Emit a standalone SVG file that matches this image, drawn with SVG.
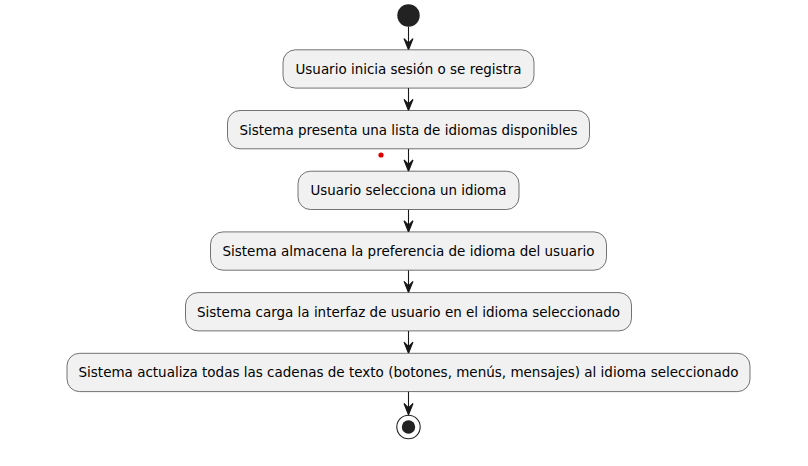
<svg xmlns="http://www.w3.org/2000/svg" width="808" height="466" viewBox="0 0 808 466">
<style>
.box{fill:#F1F1F1;stroke:#181818;stroke-width:0.6}
.lbl{font-family:"DejaVu Sans",sans-serif;font-size:13.4px;fill:#000;text-anchor:middle}
.edge{stroke:#181818;stroke-width:1.1;fill:none}
.head{fill:#181818;stroke:#181818;stroke-width:1.1}
</style>
<defs>
<polygon id="ah" points="-4.5,-11.2 0,0 4.5,-11.2 0,-6.7"/>
</defs>
<rect width="808" height="466" fill="#FFFFFF"/>
<g id="connectors">
<line class="edge" x1="408.5" y1="26.7" x2="408.5" y2="49"/>
<use href="#ah" class="head" x="408.5" y="49.8"/>
<line class="edge" x1="408.5" y1="88.1" x2="408.5" y2="110"/>
<use href="#ah" class="head" x="408.5" y="110.5"/>
<line class="edge" x1="408.5" y1="148.8" x2="408.5" y2="170.5"/>
<use href="#ah" class="head" x="408.5" y="171.2"/>
<line class="edge" x1="408.5" y1="209.5" x2="408.5" y2="231.2"/>
<use href="#ah" class="head" x="408.5" y="231.9"/>
<line class="edge" x1="408.5" y1="270.2" x2="408.5" y2="292"/>
<use href="#ah" class="head" x="408.5" y="292.6"/>
<line class="edge" x1="408.5" y1="330.9" x2="408.5" y2="352.6"/>
<use href="#ah" class="head" x="408.5" y="353.3"/>
<line class="edge" x1="408.5" y1="391.6" x2="408.5" y2="414"/>
<use href="#ah" class="head" x="408.5" y="414.7"/>
</g>
<g id="start"><circle cx="408.5" cy="15.5" r="11.2" fill="#222222"/></g>
<g id="n1">
<rect class="box" x="283" y="49.8" width="251" height="38.3" rx="12.5"/>
<text class="lbl" x="408.5" y="73.8" textLength="226" lengthAdjust="spacingAndGlyphs">Usuario inicia sesión o se registra</text>
</g>
<g id="n2">
<rect class="box" x="227.5" y="110.5" width="362" height="38.3" rx="12.5"/>
<text class="lbl" x="408.5" y="134.5" textLength="338" lengthAdjust="spacingAndGlyphs">Sistema presenta una lista de idiomas disponibles</text>
</g>
<circle cx="381" cy="155" r="2.6" fill="#E00000"/>
<g id="n3">
<rect class="box" x="298" y="171.2" width="221" height="38.3" rx="12.5"/>
<text class="lbl" x="408.5" y="195.2" textLength="196" lengthAdjust="spacingAndGlyphs">Usuario selecciona un idioma</text>
</g>
<g id="n4">
<rect class="box" x="210.5" y="231.9" width="396" height="38.3" rx="12.5"/>
<text class="lbl" x="408.5" y="255.9" textLength="372" lengthAdjust="spacingAndGlyphs">Sistema almacena la preferencia de idioma del usuario</text>
</g>
<g id="n5">
<rect class="box" x="185.5" y="292.6" width="446" height="38.3" rx="12.5"/>
<text class="lbl" x="408.5" y="316.6" textLength="423" lengthAdjust="spacingAndGlyphs">Sistema carga la interfaz de usuario en el idioma seleccionado</text>
</g>
<g id="n6">
<rect class="box" x="67" y="353.3" width="683" height="38.3" rx="12.5"/>
<text class="lbl" x="408.5" y="377.3" textLength="660" lengthAdjust="spacingAndGlyphs">Sistema actualiza todas las cadenas de texto (botones, menús, mensajes) al idioma seleccionado</text>
</g>
<g id="end">
<circle cx="408.5" cy="427" r="11.7" fill="none" stroke="#222222" stroke-width="1.1"/>
<circle cx="408.5" cy="427" r="6.7" fill="#222222"/>
</g>
</svg>
